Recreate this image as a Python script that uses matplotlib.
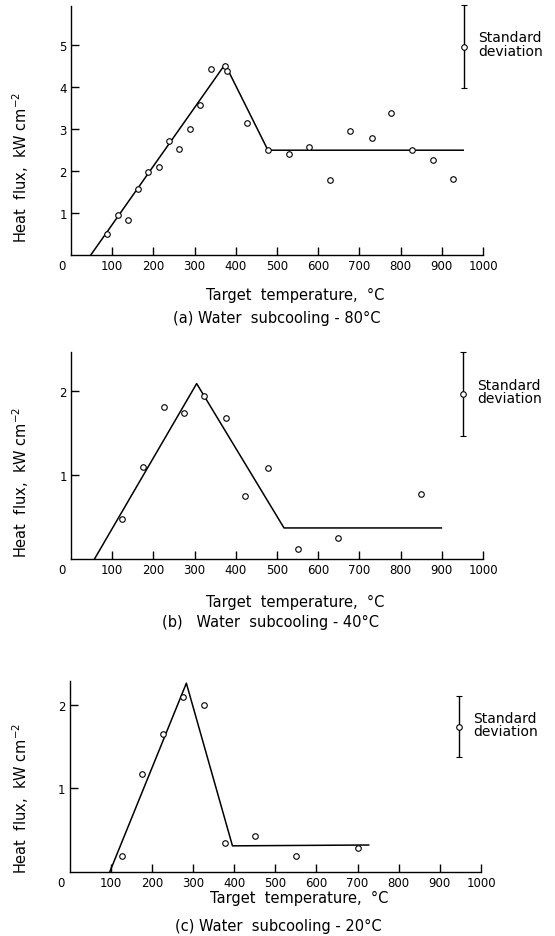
import matplotlib.pyplot as plt
import matplotlib.transforms as mtrans
import numpy as np

# (a) water subcooling 80 C
a_temp = [87, 113, 138, 163, 187, 214, 238, 263, 289, 312, 341, 374, 378, 427, 478, 528, 578, 628, 678, 730, 776, 827, 878, 928]
a_flux = [0.49, 0.96, 0.84, 1.57, 1.97, 2.11, 2.71, 2.52, 3.00, 3.58, 4.43, 4.50, 4.38, 3.16, 2.51, 2.42, 2.58, 1.80, 2.96, 2.79, 3.39, 2.50, 2.27, 1.81]
a_fit_t = [48, 374, 478, 952]
a_fit_q = [0.0, 4.55, 2.50, 2.50]
a_sd = [954, 4.97, 0.99]

# (b) water subcooling 40 C
b_temp = [123, 174, 225, 274, 322, 375, 423, 478, 551, 649, 850]
b_flux = [0.48, 1.10, 1.81, 1.74, 1.94, 1.68, 0.75, 1.08, 0.12, 0.25, 0.77]
b_fit_t = [57, 305, 517, 899]
b_fit_q = [0.0, 2.09, 0.37, 0.37]
b_sd = [951, 1.97, 0.50]

# (c) water subcooling 20 C
c_temp = [127, 176, 228, 275, 326, 377, 452, 551, 702]
c_flux = [0.19, 1.17, 1.65, 2.09, 2.00, 0.34, 0.43, 0.19, 0.29]
c_fit_t = [98, 284, 396, 727]
c_fit_q = [0.0, 2.26, 0.31, 0.32]
c_sd = [947, 1.74, 0.37]

captions = ['(a) Water  subcooling - 80°C', '(b)   Water  subcooling - 40°C', '(c) Water  subcooling - 20°C']

W, H = 555, 937
fig = plt.figure(figsize=(W / 100, H / 100), dpi=100)
plt.rcParams['font.family'] = 'DejaVu Sans'

# axes boxes in pixels: left, right, bottom, top, y max, y ticks
boxes = [(71, 483, 256, 7, 5.94, [1, 2, 3, 4, 5]),
         (71, 483, 560, 352.7, 2.47, [1, 2]),
         (69.5, 481, 872.7, 681.7, 2.29, [1, 2])]
panels = [(a_temp, a_flux, a_fit_t, a_fit_q, a_sd),
          (b_temp, b_flux, b_fit_t, b_fit_q, b_sd),
          (c_temp, c_flux, c_fit_t, c_fit_q, c_sd)]
# text positions in pixels: xlabel (x, y), caption (x, y), ylabel y
text_pos = [((295, 295), (277, 318), 167),
            ((295, 602), (271, 622), 482),
            ((299, 898), (278, 926), 798)]

for i in range(3):
    l, r, b, t, ymax, yt = boxes[i]
    temp, flux, ft, fq, sd = panels[i]
    ax = fig.add_axes([l / W, 1 - b / H, (r - l) / W, (b - t) / H])
    ax.plot(ft, fq, color='black', lw=1.1, clip_on=False)
    ax.plot(temp, flux, 'o', ms=4, mfc='white', mec='black', mew=0.8, clip_on=False)
    # standard deviation marker
    ax.errorbar([sd[0]], [sd[1]], yerr=[sd[2]], fmt='o', ms=4, mfc='white', mec='black',
                mew=0.8, ecolor='black', elinewidth=1.0, capsize=2.5, capthick=1.0, clip_on=False)
    ax.text(sd[0] + 34, sd[1] + 0.01 * ymax, 'Standard\ndeviation', fontsize=10, va='center',
            ha='left', linespacing=0.95)

    ax.set_xlim(0, 1000)
    ax.set_ylim(0, ymax)
    ax.set_xticks(np.arange(0, 1001, 100))
    ax.set_yticks(yt)
    ax.set_yticklabels([str(v) for v in yt])
    ax.tick_params(direction='in', length=5.5, width=1.0, labelsize=8.5, pad=3)
    for s in ['top', 'right']:
        ax.spines[s].set_visible(False)
    for s in ['left', 'bottom']:
        ax.spines[s].set_linewidth(1.0)
    # origin label sits a bit left of the axis
    fig.canvas.draw()
    lab0 = ax.get_xticklabels()[0]
    lab0.set_transform(lab0.get_transform() + mtrans.ScaledTranslation(-9 / 100, 0, fig.dpi_scale_trans))
    ax.get_xticklines()[0].set_visible(False)

    (xl, yl), (xc, yc), ylab = text_pos[i]
    fig.text(xl / W, 1 - yl / H, 'Target  temperature,  °C', fontsize=10.5, ha='center', va='center')
    fig.text(xc / W, 1 - yc / H, captions[i], fontsize=10.5, ha='center', va='center')
    fig.text(21 / W, 1 - ylab / H, 'Heat  flux,  kW cm$^{-2}$', fontsize=10.5, rotation=90,
             ha='center', va='center')

fig.savefig('out.png', dpi=100)
